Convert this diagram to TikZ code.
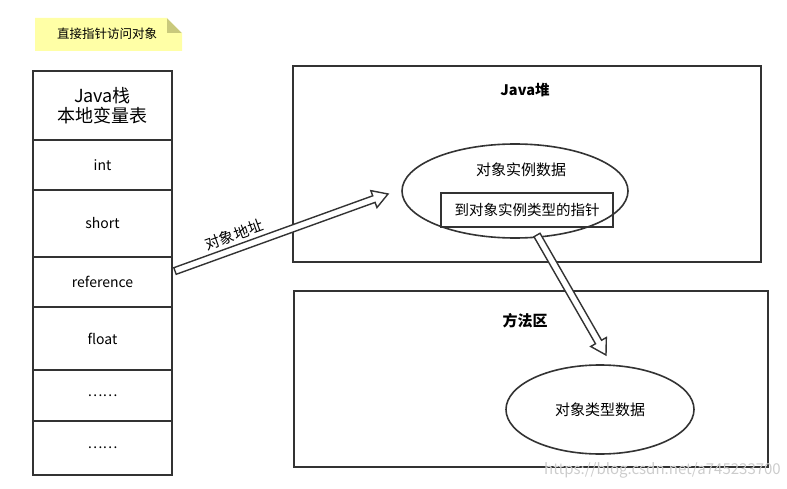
\documentclass[tikz,border=0pt]{standalone}
\usepackage{fontspec}
\setmainfont{Noto Sans CJK SC}
\usetikzlibrary{calc,positioning}
\definecolor{ln}{HTML}{333333}
\definecolor{notefill}{HTML}{FFFFA6}
\definecolor{notefold}{HTML}{C9C97C}
\tikzset{
  box/.style={draw=ln, line width=1.6pt, rectangle, inner sep=0pt},
  cell/.style={box, minimum width=139pt, align=center, font=\fontsize{14pt}{17pt}\selectfont},
  ell/.style={draw=ln, line width=1.6pt, ellipse, inner sep=0pt},
  title/.style={font=\fontsize{14.5pt}{17pt}\selectfont\bfseries},
  txt/.style={font=\fontsize{15pt}{18pt}\selectfont, inner sep=0pt},
  hollow/.style={draw=ln, line width=1.4pt, fill=white, line join=miter}
}
\usetikzlibrary{shapes.geometric}
\begin{document}
\begin{tikzpicture}[x=1pt,y=-1pt]
\useasboundingbox (0,0) rectangle (787,489);
% note
\fill[notefill] (35,18) -- (167,18) -- (182,33) -- (182,51) -- (35,51) -- cycle;
\fill[notefold] (167,18) -- (182,33) -- (167,33) -- cycle;
\fill[white] (167,18) -- (182,18) -- (182,33) -- cycle;
\node[font=\fontsize{12.5pt}{15pt}\selectfont, inner sep=0pt] (note) at (107,34) {直接指针访问对象};
% stack
\node[cell, minimum height=69pt, font=\fontsize{18pt}{22pt}\selectfont] (r0) at (102.5,105.5) {Java栈\\[-2pt]本地变量表};
\node[cell, minimum height=50pt] (r1) at (102.5,165) {int};
\node[cell, minimum height=67pt] (r2) at (102.5,223.5) {short};
\node[cell, minimum height=50pt] (r3) at (102.5,282) {reference};
\node[cell, minimum height=63pt] (r4) at (102.5,338.5) {float};
\node[cell, minimum height=51pt] (r5) at (102.5,395.5) {……};
\node[cell, minimum height=54pt] (r6) at (102.5,448) {……};
% heap
\node[box, minimum width=468pt, minimum height=196pt] (heap) at (527,164) {};
\node[title] (heapt) at (525,90) {Java堆};
\node[ell, minimum width=226pt, minimum height=94pt] (e1) at (515,191) {};
\node[txt] (e1t) at (521,170) {对象实例数据};
\node[box, minimum width=172pt, minimum height=34pt, font=\fontsize{14.5pt}{17pt}\selectfont] (ptr) at (527,210) {到对象实例类型的指针};
% method area
\node[box, minimum width=474pt, minimum height=176pt] (meth) at (531,379) {};
\node[title, font=\fontsize{15pt}{18pt}\selectfont\bfseries] (metht) at (525,321) {方法区};
\node[ell, minimum width=188pt, minimum height=89pt] (e2) at (600,409.5) {};
\node[txt] (e2t) at (600,410) {对象类型数据};
% arrows
\coordinate (a1) at (175,271);
\coordinate (b1) at (388,194);
\coordinate (h1) at ($(b1)!15pt!(a1)$);
\draw[hollow] ($(a1)!3.5pt!-90:(b1)$) -- ($(h1)!3.5pt!-90:(b1)$) -- ($(h1)!9pt!-90:(b1)$) -- (b1)
  -- ($(h1)!9pt!90:(b1)$) -- ($(h1)!3.5pt!90:(b1)$) -- ($(a1)!3.5pt!90:(b1)$) -- cycle;
\path (a1) -- (b1) node[pos=0.3, sloped, above=7pt, txt, font=\fontsize{15pt}{18pt}\selectfont] (lab) {对象地址};
\coordinate (a2) at (537,235);
\coordinate (b2) at (606,355);
\coordinate (h2) at ($(b2)!15pt!(a2)$);
\draw[hollow] ($(a2)!3.5pt!-90:(b2)$) -- ($(h2)!3.5pt!-90:(b2)$) -- ($(h2)!9pt!-90:(b2)$) -- (b2)
  -- ($(h2)!9pt!90:(b2)$) -- ($(h2)!3.5pt!90:(b2)$) -- ($(a2)!3.5pt!90:(b2)$) -- cycle;
% watermark
\node[font=\fontsize{15pt}{18pt}\selectfont, text=gray!40, anchor=east, inner sep=0pt] (wm) at (781,470) {https://blog.csdn.net/a745233700};
\end{tikzpicture}
\end{document}
